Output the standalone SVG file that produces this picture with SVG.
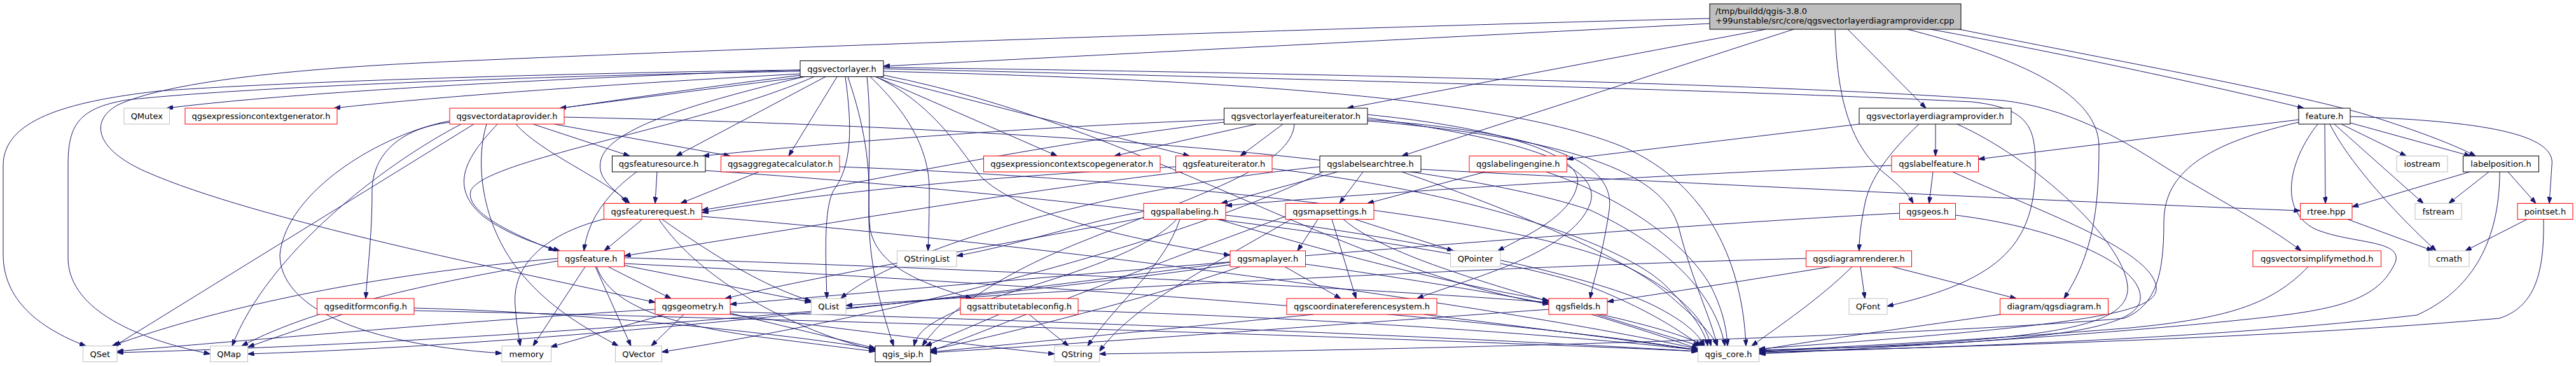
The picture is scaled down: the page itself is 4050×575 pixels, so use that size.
<svg xmlns="http://www.w3.org/2000/svg" width="4050" height="575" viewBox="0 0 4050 575">
<style>
.e path{fill:none;stroke:#191970;stroke-width:1;marker-end:url(#a)}
rect{fill:#fff;stroke-width:1}
.k rect{stroke:#000}
.r rect{stroke:#ff0000}
.g rect{stroke:#bfbfbf}
.root rect{fill:#bfbfbf;stroke:#000}
text{font-family:"DejaVu Sans","Liberation Sans",sans-serif;font-size:13px;fill:#000;text-anchor:middle}
.root text{text-anchor:start}
</style>
<defs>
<marker id="a" markerWidth="10" markerHeight="7" refX="10" refY="3.5" orient="auto" markerUnits="userSpaceOnUse"><path d="M0,0 L10,3.5 L0,7 z" fill="#191970" stroke="#191970" stroke-width="1"/></marker>
</defs>
<rect x="0" y="0" width="4050" height="575" style="fill:#fff;stroke:none"/>
<g id="edges" class="e">
<path d="M2688,37 L1389,104"/>
<path d="M2688,29 C2300,38 1300,70 700,97 C450,108 260,130 185,165 C140,190 150,235 230,270 C400,345 800,425 1030,475"/>
<path d="M2776,46 L2118,170"/>
<path d="M2820,46 L2204,245"/>
<path d="M2885,46 C2888,130 2900,220 2960,270 C2985,290 3000,305 3008,319.5"/>
<path d="M2905,46 L3028,170"/>
<path d="M2999,46 C3150,85 3300,140 3300,230 C3300,330 3290,400 3245,469"/>
<path d="M3035,46 C3250,85 3500,140 3622,170"/>
<path d="M3080,46 C3350,100 3600,145 3720,180 C3800,205 3860,228 3892,245"/>
<path d="M1258,110 C1000,118 500,140 262,170"/>
<path d="M1258,116 C1000,130 700,150 525,170"/>
<path d="M1265,120.5 L880,170"/>
<path d="M1298,120.5 L1063,245"/>
<path d="M1316,120.5 L1240,245"/>
<path d="M1377,120.5 L1662,245"/>
<path d="M1382,120.5 L1870,245"/>
<path d="M1368,120.5 C1420,170 1462,230 1461,300 C1461,340 1460,370 1459,394"/>
<path d="M1363,120.5 C1372,200 1362,300 1368,360 C1380,420 1450,445 1528,469"/>
<path d="M1377,120.5 C1460,160 1500,220 1540,275 C1600,340 1800,380 1934,401"/>
<path d="M1389,108 C1800,118 2700,140 3100,160 C3190,170 3200,200 3200,260 C3200,380 3150,440 2967,481"/>
<path d="M1389,106 C1900,112 2800,130 3150,158 C3250,170 3330,215 3400,260 C3480,310 3560,350 3618,394"/>
<path d="M1389,112 C1900,125 2350,150 2550,230 C2690,290 2740,420 2745,543.5"/>
<path d="M1258,110 C1000,113 500,125 250,143 C100,160 5,190 5,260 L5,400 C5,470 60,515 135,543.5"/>
<path d="M1258,112 C900,118 400,135 200,157 C120,170 107,200 107,260 L107,405 C107,480 200,530 330.5,556"/>
<path d="M1260,118 C1000,150 800,185 700,193 C620,205 585,250 585,300 C585,370 578,420 575,469"/>
<path d="M1280,120.5 C1100,200 760,250 740,300 C730,340 840,380 872,394"/>
<path d="M1264,120.5 C1100,160 960,200 945,250 C935,285 975,300 985,319.5"/>
<path d="M1389,118 C1800,200 2100,420 2435,478"/>
<path d="M1329,120.5 C1340,200 1340,260 1310,300 C1295,330 1298,400 1300,469"/>
<path d="M1333,120.5 C1360,200 1368,260 1366,320 C1364,400 1380,470 1405,543.5"/>
<path d="M838,195 L990,245"/>
<path d="M871,195 L1148,245"/>
<path d="M811,195 C850,240 950,280 990,319.5"/>
<path d="M782,195 C740,240 700,290 760,340 C800,370 850,385 880,394"/>
<path d="M745,195 L180,543.5"/>
<path d="M725,195 C600,260 420,400 365,543.5"/>
<path d="M887,184 C1400,195 2200,230 2500,330 C2650,400 2700,480 2712,543.5"/>
<path d="M707,190 C600,210 450,300 440,400 C440,480 560,540 789,555"/>
<path d="M765,195 C745,260 760,360 820,430 C870,490 930,520 972,543.5"/>
<path d="M1924.5,188 C1600,200 1300,225 1105,245"/>
<path d="M1975,195 L1752,245"/>
<path d="M2017,195 L1950,245"/>
<path d="M1924.5,192 C1600,230 1300,300 1103.5,330"/>
<path d="M2150,185 C2400,220 2520,260 2500,320 C2470,400 2300,440 2228,469"/>
<path d="M2150,180 C2350,200 2490,240 2480,290 C2470,340 2400,370 2355,394"/>
<path d="M2150,188 C2450,210 2540,260 2530,330 C2520,400 2505,440 2500,469"/>
<path d="M2150,190 C2500,220 2620,280 2640,360 C2660,440 2690,500 2700,543.5"/>
<path d="M2035,195 C2030,260 1900,300 1700,380 C1550,440 1480,500 1450,543.5"/>
<path d="M2923,195 L2463.5,250"/>
<path d="M3043,195 L3043,245"/>
<path d="M3017,195 C2970,240 2940,280 2932,320 C2926,350 2923,370 2923,394"/>
<path d="M3077,195 C3200,250 3340,380 3345,450 C3350,520 3200,535 2765.5,552"/>
<path d="M3614,188 L3110.5,250"/>
<path d="M3681,195 L3783,245"/>
<path d="M3695,193 L3884,245"/>
<path d="M3655,195 L3656,319.5"/>
<path d="M3670,195 L3810,319.5"/>
<path d="M3663,195 C3690,250 3760,330 3830,394"/>
<path d="M3695,183 C3900,190 4020,210 4012,260 C4010,290 4009,305 4008,319.5"/>
<path d="M3644,195 C3600,250 3580,330 3640,360 C3700,385 3790,375 3762,420 C3730,480 3650,490 3500,505 C3300,525 3000,545 2765.5,556"/>
<path d="M3614,192 C3450,230 3402,280 3402,350 C3402,430 3390,480 3340,500 C3000,530 2200,550 1728.5,556"/>
<path d="M1033,270 L1030,319.5"/>
<path d="M1001,270 C960,300 925,340 918,394"/>
<path d="M1109,268 C1600,300 2300,380 2500,450 C2600,490 2640,520 2675,543.5"/>
<path d="M1193,270 L1070,319.5"/>
<path d="M1320,262 C1800,280 2400,340 2560,420 C2640,460 2680,500 2690,543.5"/>
<path d="M1848.5,262 C1500,280 1250,310 1103.5,334"/>
<path d="M1860,270 C1600,300 1250,360 981.5,402"/>
<path d="M2000,265 C2300,300 2550,380 2620,450 C2660,490 2680,520 2685,543.5"/>
<path d="M2103,270 L1920,319.5"/>
<path d="M2143,270 L2106,319.5"/>
<path d="M2234,266 C2500,280 3200,315 3616.5,331"/>
<path d="M2075,262 C1700,300 1400,400 1322,469"/>
<path d="M2080,270 C1900,360 1500,480 1040.5,553"/>
<path d="M2204,270 C2350,320 2550,400 2620,460 C2660,495 2690,520 2700,543.5"/>
<path d="M2335,270 L2150,319.5"/>
<path d="M2431,270 C2550,310 2650,380 2690,450 C2710,490 2715,520 2716,543.5"/>
<path d="M2974,260 C2600,275 2200,300 1927,323"/>
<path d="M3039,270 L3033,319.5"/>
<path d="M3070,270 C3200,330 3380,390 3390,450 C3395,490 3300,510 2765.5,548"/>
<path d="M1798,332 C1700,350 1600,385 1504,402"/>
<path d="M1798,342 C1600,380 1300,430 1140,469"/>
<path d="M1850,344.5 C1780,420 1550,460 1480,500 C1450,515 1440,530 1437,543.5"/>
<path d="M1855,344.5 C1830,420 1760,470 1710,543.5"/>
<path d="M1915,344.5 C2100,400 2300,450 2435,472"/>
<path d="M1927,338 C2200,370 2500,430 2600,480 C2650,505 2670,525 2680,543.5"/>
<path d="M2072,344.5 L2040,394"/>
<path d="M2094,344.5 L2132,469"/>
<path d="M2130,344.5 L2285,394"/>
<path d="M2112,344.5 C2200,420 2450,470 2669.5,548"/>
<path d="M2021,340 C1800,420 1600,500 1463,552"/>
<path d="M2030,344.5 C1900,420 1780,480 1728.5,552"/>
<path d="M2020,419 L2108,469"/>
<path d="M1950,419 C1800,470 1600,520 1463,550"/>
<path d="M2052.5,415 C2300,450 2600,500 2680,543.5"/>
<path d="M1934,412 C1500,470 900,540 389.5,556"/>
<path d="M1934,416 C1400,490 700,540 184,554"/>
<path d="M2986.5,335 C2500,360 1600,440 1148,478"/>
<path d="M3074.5,338 C3250,360 3370,420 3365,470 C3360,520 3200,540 2765.5,550"/>
<path d="M3691,344.5 L3825,394"/>
<path d="M3973,344.5 L3876,394"/>
<path d="M3999,344.5 C4000,420 3990,480 3930,500 C3600,530 3100,545 2765.5,553"/>
<path d="M3883,270 L3698,325"/>
<path d="M3913,270 L3850,319.5"/>
<path d="M3943,270 L3987,319.5"/>
<path d="M3930,270 C3930,360 3900,450 3800,495 C3500,530 3100,545 2765.5,554"/>
<path d="M956,419 L1055,469"/>
<path d="M920,419 L838,543.5"/>
<path d="M936,419 L992,543.5"/>
<path d="M981.5,417 L1275.5,475"/>
<path d="M981.5,405 C1500,420 2100,450 2435,475"/>
<path d="M938,419 C960,480 1050,510 1200,530 C1280,540 1340,548 1376,552"/>
<path d="M981.5,414 C1500,440 2300,490 2669.5,550"/>
<path d="M877,406 C600,430 350,480 176,543.5"/>
<path d="M877,410 C700,440 500,480 380,543.5"/>
<path d="M1010,344.5 L950,394"/>
<path d="M1041,344.5 C1120,400 1200,450 1275.5,473"/>
<path d="M950,344 C850,370 805,420 810,480 C812,510 815,525 818,543.5"/>
<path d="M1103.5,340 C1600,380 2300,470 2669.5,548"/>
<path d="M1036,344.5 C1100,440 1250,520 1376,550"/>
<path d="M538,494 L390,545"/>
<path d="M651,484 C900,490 1200,520 1376,548"/>
<path d="M651,488 C1200,500 2200,530 2669.5,552"/>
<path d="M1045,494 L866,545"/>
<path d="M1075,494 L1024,543.5"/>
<path d="M1148,492 L1376,547"/>
<path d="M1148,494 C1350,520 1550,545 1658,556"/>
<path d="M1030,486 C800,500 500,525 184,552"/>
<path d="M1148,490 C1700,505 2300,530 2669.5,552"/>
<path d="M1571,494 L1455,543.5"/>
<path d="M1618,494 L1680,543.5"/>
<path d="M1695,488 C2100,500 2500,530 2669.5,550"/>
<path d="M2065,494 C1800,520 1600,540 1463,553"/>
<path d="M2239,494 C2450,520 2600,540 2669.5,550"/>
<path d="M2510,494 L2672,543.5"/>
<path d="M2435,486 C2100,510 1700,540 1463,554"/>
<path d="M2925,419 L2932,469"/>
<path d="M2975,419 L3170,469"/>
<path d="M2912,419 C2860,470 2800,510 2754,543.5"/>
<path d="M2878,419 C2750,440 2620,460 2527,474"/>
<path d="M2839.5,406 C2300,420 1600,460 1330,480"/>
<path d="M3145,494 C3000,515 2850,535 2765.5,550"/>
<path d="M3629,419 C3570,480 3500,500 3350,515 C3100,535 2900,545 2765.5,551"/>
</g>
<g id="node-root" class="root"><rect x="2688" y="6" width="395" height="40"/><text x="2697" y="21.5">/tmp/buildd/qgis-3.8.0</text><text x="2697" y="37">+99unstable/src/core/qgsvectorlayerdiagramprovider.cpp</text></g>
<g id="node-qgsvectorlayer" class="k"><rect x="1258" y="95.5" width="131" height="25"/><text x="1323.5" y="112.5">qgsvectorlayer.h</text></g>
<g id="node-QMutex" class="g"><rect x="195" y="170" width="71.5" height="25"/><text x="230.75" y="187">QMutex</text></g>
<g id="node-qgsexpressioncontextgenerator" class="r"><rect x="291" y="170" width="239" height="25"/><text x="410.5" y="187">qgsexpressioncontextgenerator.h</text></g>
<g id="node-qgsvectordataprovider" class="r"><rect x="707" y="170" width="180" height="25"/><text x="797" y="187">qgsvectordataprovider.h</text></g>
<g id="node-qgsvectorlayerfeatureiterator" class="k"><rect x="1924.5" y="170" width="225.5" height="25"/><text x="2037.25" y="187">qgsvectorlayerfeatureiterator.h</text></g>
<g id="node-qgsvectorlayerdiagramprovider" class="k"><rect x="2923" y="170" width="239" height="25"/><text x="3042.5" y="187">qgsvectorlayerdiagramprovider.h</text></g>
<g id="node-feature" class="k"><rect x="3614" y="170" width="81" height="25"/><text x="3654.5" y="187">feature.h</text></g>
<g id="node-qgsfeaturesource" class="k"><rect x="962.5" y="245" width="146.5" height="25"/><text x="1035.75" y="262">qgsfeaturesource.h</text></g>
<g id="node-qgsaggregatecalculator" class="r"><rect x="1133.5" y="245" width="186.5" height="25"/><text x="1226.75" y="262">qgsaggregatecalculator.h</text></g>
<g id="node-qgsexpressioncontextscopegenerator" class="r"><rect x="1546.5" y="245" width="277.5" height="25"/><text x="1685.25" y="262">qgsexpressioncontextscopegenerator.h</text></g>
<g id="node-qgsfeatureiterator" class="r"><rect x="1848.5" y="245" width="151.5" height="25"/><text x="1924.25" y="262">qgsfeatureiterator.h</text></g>
<g id="node-qgslabelsearchtree" class="k"><rect x="2075" y="245" width="159" height="25"/><text x="2154.5" y="262">qgslabelsearchtree.h</text></g>
<g id="node-qgslabelingengine" class="r"><rect x="2310" y="245" width="153.5" height="25"/><text x="2386.75" y="262">qgslabelingengine.h</text></g>
<g id="node-qgslabelfeature" class="r"><rect x="2974" y="245" width="136.5" height="25"/><text x="3042.25" y="262">qgslabelfeature.h</text></g>
<g id="node-iostream" class="g"><rect x="3768" y="245" width="80" height="25"/><text x="3808" y="262">iostream</text></g>
<g id="node-labelposition" class="k"><rect x="3872.5" y="245" width="119" height="25"/><text x="3932" y="262">labelposition.h</text></g>
<g id="node-qgsfeaturerequest" class="r"><rect x="949.5" y="319.5" width="154" height="25"/><text x="1026.5" y="336.5">qgsfeaturerequest.h</text></g>
<g id="node-qgspallabeling" class="r"><rect x="1798" y="319.5" width="129" height="25"/><text x="1862.5" y="336.5">qgspallabeling.h</text></g>
<g id="node-qgsmapsettings" class="r"><rect x="2021" y="319.5" width="139" height="25"/><text x="2090.5" y="336.5">qgsmapsettings.h</text></g>
<g id="node-qgsgeos" class="r"><rect x="2986.5" y="319.5" width="88" height="25"/><text x="3030.5" y="336.5">qgsgeos.h</text></g>
<g id="node-rtree" class="r"><rect x="3616.5" y="319.5" width="81.5" height="25"/><text x="3657.25" y="336.5">rtree.hpp</text></g>
<g id="node-fstream" class="g"><rect x="3797" y="319.5" width="73" height="25"/><text x="3833.5" y="336.5">fstream</text></g>
<g id="node-pointset" class="r"><rect x="3958" y="319.5" width="87" height="25"/><text x="4001.5" y="336.5">pointset.h</text></g>
<g id="node-qgsfeature" class="r"><rect x="877" y="394" width="104.5" height="25"/><text x="929.25" y="411">qgsfeature.h</text></g>
<g id="node-QStringList" class="g"><rect x="1410.5" y="394" width="93.5" height="25"/><text x="1457.25" y="411">QStringList</text></g>
<g id="node-qgsmaplayer" class="r"><rect x="1934" y="394" width="118.5" height="25"/><text x="1993.25" y="411">qgsmaplayer.h</text></g>
<g id="node-QPointer" class="g"><rect x="2280.5" y="394" width="78.5" height="25"/><text x="2319.75" y="411">QPointer</text></g>
<g id="node-qgsdiagramrenderer" class="r"><rect x="2839.5" y="394" width="166" height="25"/><text x="2922.5" y="411">qgsdiagramrenderer.h</text></g>
<g id="node-qgsvectorsimplifymethod" class="r"><rect x="3542" y="394" width="201.5" height="25"/><text x="3642.75" y="411">qgsvectorsimplifymethod.h</text></g>
<g id="node-cmath" class="g"><rect x="3819" y="394" width="63" height="25"/><text x="3850.5" y="411">cmath</text></g>
<g id="node-qgseditformconfig" class="r"><rect x="498.5" y="469" width="152.5" height="25"/><text x="574.75" y="486">qgseditformconfig.h</text></g>
<g id="node-qgsgeometry" class="r"><rect x="1030" y="469" width="118" height="25"/><text x="1089" y="486">qgsgeometry.h</text></g>
<g id="node-QList" class="g"><rect x="1275.5" y="469" width="54.5" height="25"/><text x="1302.75" y="486">QList</text></g>
<g id="node-qgsattributetableconfig" class="r"><rect x="1510" y="469" width="185" height="25"/><text x="1602.5" y="486">qgsattributetableconfig.h</text></g>
<g id="node-qgscoordinatereferencesystem" class="r"><rect x="2023" y="469" width="236" height="25"/><text x="2141" y="486">qgscoordinatereferencesystem.h</text></g>
<g id="node-qgsfields" class="r"><rect x="2435" y="469" width="92" height="25"/><text x="2481" y="486">qgsfields.h</text></g>
<g id="node-QFont" class="g"><rect x="2907" y="469" width="60" height="25"/><text x="2937" y="486">QFont</text></g>
<g id="node-qgsdiagram" class="r"><rect x="3144.5" y="469" width="170" height="25"/><text x="3229.5" y="486">diagram/qgsdiagram.h</text></g>
<g id="node-QSet" class="g"><rect x="130.5" y="543.5" width="53.5" height="25"/><text x="157.25" y="560.5">QSet</text></g>
<g id="node-QMap" class="g"><rect x="330.5" y="543.5" width="59" height="25"/><text x="360" y="560.5">QMap</text></g>
<g id="node-memory" class="g"><rect x="789" y="543.5" width="77.5" height="25"/><text x="827.75" y="560.5">memory</text></g>
<g id="node-QVector" class="g"><rect x="967.5" y="543.5" width="73" height="25"/><text x="1004" y="560.5">QVector</text></g>
<g id="node-qgis_sip" class="k"><rect x="1376" y="543.5" width="87" height="25"/><text x="1419.5" y="560.5">qgis_sip.h</text></g>
<g id="node-QString" class="g"><rect x="1658" y="543.5" width="70.5" height="25"/><text x="1693.25" y="560.5">QString</text></g>
<g id="node-qgis_core" class="g"><rect x="2669.5" y="543.5" width="96" height="25"/><text x="2717.5" y="560.5">qgis_core.h</text></g>
</svg>
